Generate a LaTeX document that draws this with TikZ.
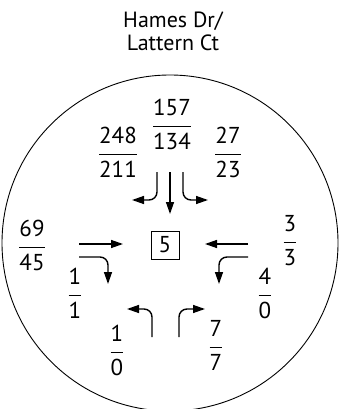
\documentclass[tikz,border=0pt]{standalone}
\usepackage{amsmath}
\usepackage{fontspec}
\setmainfont{PT Sans}
\usetikzlibrary{arrows.meta}

\newcommand{\vol}[2]{$\dfrac{\text{#1}}{\text{#2}}$}

\begin{document}
\begin{tikzpicture}[x=1pt, y=-1pt,
  vol/.style={font=\fontsize{23}{25}\selectfont, inner sep=0pt, anchor=base, yshift=-5.6pt},
  sig/.style={draw, line width=0.8pt, minimum size=28pt, inner sep=0pt,
              font=\fontsize{23}{25}\selectfont},
  mv/.style={-{Triangle[length=12pt, width=8pt]}, line width=1.4pt, rounded corners=8pt}]
\useasboundingbox (0,0) rectangle (350,409);
\clip (0,0) rectangle (350,409);
\draw[line width=0.9pt] (170,243) circle[radius=168];
\node[font=\fontsize{22}{23}\selectfont, align=center] (title) at (173,31) {Hames Dr/\\Lattern Ct};
\node[sig] (ctrl) at (165,245) {5};
% approach volumes
\node[vol] (sbt) at (172,127) {\vol{157}{134}};
\node[vol] (sbr) at (118,155) {\vol{248}{211}};
\node[vol] (sbl) at (228,155) {\vol{27}{23}};
\node[vol] (ebt) at (32,248) {\vol{69}{45}};
\node[vol] (ebr) at (75,296) {\vol{1}{1}};
\node[vol] (wbt) at (290,243) {\vol{3}{3}};
\node[vol] (wbl) at (265,296) {\vol{4}{0}};
\node[vol] (nbl) at (117,353) {\vol{1}{0}};
\node[vol] (nbr) at (216,348) {\vol{7}{7}};
% movements
\coordinate (s1) at (157,172); \coordinate (s2) at (170,172); \coordinate (s3) at (183,172);
\coordinate (e1) at (79,244);  \coordinate (e2) at (79,257);
\coordinate (w1) at (248,244); \coordinate (w2) at (248,257);
\coordinate (n1) at (152,337); \coordinate (n2) at (179,337);
\draw[mv] (s1) |- (132,200);
\draw[mv] (s2) -- (170,214);
\draw[mv] (s3) |- (208,200);
\draw[mv] (e1) -- (123,244);
\draw[mv] (e2) -| (108,284);
\draw[mv] (w1) -- (205,244);
\draw[mv] (w2) -| (219,284);
\draw[mv] (n1) |- (127,309);
\draw[mv] (n2) |- (205,309);
\end{tikzpicture}
\end{document}
